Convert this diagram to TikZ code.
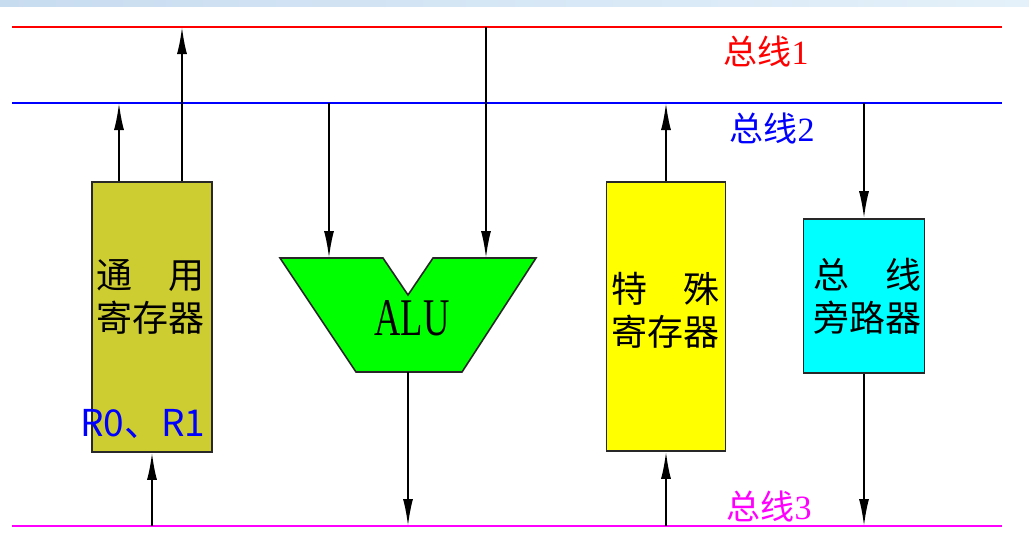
\documentclass[tikz,border=0pt]{standalone}
\usepackage{fontspec}
\setmainfont{Liberation Serif}
\newfontfamily\cjk{Noto Sans CJK SC}
\usetikzlibrary{arrows.meta}
\definecolor{genfill}{RGB}{205,205,50}
\definecolor{aluf}{RGB}{0,255,0}
\definecolor{srf}{RGB}{255,255,0}
\definecolor{bpf}{RGB}{0,255,255}
\definecolor{busred}{RGB}{255,0,0}
\definecolor{busblue}{RGB}{0,0,255}
\definecolor{busmag}{RGB}{255,0,255}
\definecolor{bandL}{RGB}{200,220,240}
\definecolor{bandR}{RGB}{228,241,250}
\definecolor{edge}{RGB}{40,40,40}
\begin{document}
\begin{tikzpicture}[x=1pt,y=-1pt,
  bus/.style={line width=2pt},
  arr/.style={line width=1.8pt,-{Latex[length=27pt,width=10pt]}},
  box/.style={draw=edge,line width=1.6pt,rectangle,inner sep=0pt},
  boxtext/.style={font=\cjk\fontsize{36}{43}\selectfont,align=center,inner sep=0pt},
  buslabel/.style={font=\fontsize{34}{40}\selectfont,inner sep=0pt}]
\useasboundingbox (0,0) rectangle (1029,547);
\shade[left color=bandL,right color=bandR] (0,0) rectangle (1029,6);
% buses
\coordinate (b1w) at (12,27);  \coordinate (b1e) at (1002,27);
\coordinate (b2w) at (12,103); \coordinate (b2e) at (1002,103);
\coordinate (b3w) at (12,526); \coordinate (b3e) at (1002,526);
\draw[bus,busred] (b1w) -- (b1e);
\draw[bus,busblue] (b2w) -- (b2e);
\draw[bus,busmag] (b3w) -- (b3e);
\node[buslabel,text=busred] (l1) at (766,51) {{\cjk 总线}1};
\node[buslabel,text=busblue] (l2) at (772,128) {{\cjk 总线}2};
\node[buslabel,text=busmag] (l3) at (769,506) {{\cjk 总线}3};
% general registers
\node[box,fill=genfill,minimum width=120,minimum height=270] (gr) at (152,317) {};
\node[boxtext] (grt) at (150,297) {通　用\\寄存器};
\node[font=\cjk\fontsize{37}{37}\selectfont,text=busblue,inner sep=0pt] (r01) at (143,424) {R0、R1};
% ALU
\coordinate (A1) at (280,258); \coordinate (A2) at (383,258);
\coordinate (A3) at (408,295); \coordinate (A4) at (433,258);
\coordinate (A5) at (536,258); \coordinate (A6) at (462,372);
\coordinate (A7) at (356,372);
\draw[fill=aluf,draw=edge,line width=1.6pt] (A1)--(A2)--(A3)--(A4)--(A5)--(A6)--(A7)--cycle;
\node[inner sep=0pt,anchor=base] (alu) at (412,335) {\fontsize{53}{53}\selectfont\scalebox{0.69}[1]{ALU}};
\coordinate (ain1) at (329,258);
\coordinate (ain2) at (486,258);
\coordinate (aout) at (408,372);
% special registers
\node[box,fill=srf,minimum width=119,minimum height=269] (sr) at (666,316.5) {};
\node[boxtext] (srt) at (665,310) {特　殊\\寄存器};
% bus bypass
\node[box,fill=bpf,minimum width=121,minimum height=154] (bp) at (864,296) {};
\node[boxtext] (bpt) at (867,296) {总　线\\旁路器};
% connectors
\draw[arr] (gr.north) ++(-33,0) coordinate (g1) -- (g1 |- b2w);
\draw[arr] (gr.north) ++(30,0) coordinate (g2) -- (g2 |- b1w);
\draw[arr] (gr.south |- b3w) -- (gr.south);
\draw[arr] (ain1 |- b2w) -- (ain1);
\draw[arr] (ain2 |- b1w) -- (ain2);
\draw[arr] (aout) -- (aout |- b3w);
\draw[arr] (sr.north) -- (sr.north |- b2w);
\draw[arr] (sr.south |- b3w) -- (sr.south);
\draw[arr] (bp.north |- b2w) -- (bp.north);
\draw[arr] (bp.south) -- (bp.south |- b3w);
\end{tikzpicture}
\end{document}
